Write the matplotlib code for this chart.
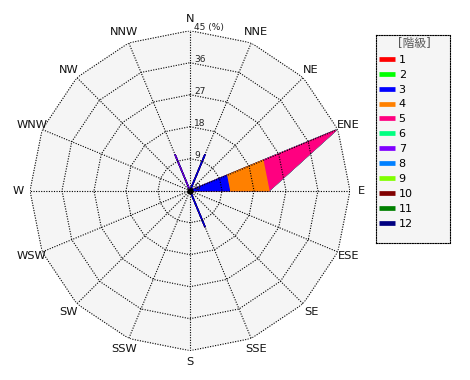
import numpy as np
import matplotlib
matplotlib.use('Agg')
import matplotlib.pyplot as plt
from matplotlib.lines import Line2D

# Fonte: DejaVu para o texto latino, Noto CJK para o título da legenda
plt.rcParams['font.family'] = ['DejaVu Sans', 'Noto Sans CJK JP']

# =============================================================================
# DADOS (frequência % por direção e por classe)
# =============================================================================
directions = ['N', 'NNE', 'NE', 'ENE', 'E', 'ESE', 'SE', 'SSE',
              'S', 'SSW', 'SW', 'WSW', 'W', 'WNW', 'NW', 'NNW']
ring_values = [9, 18, 27, 36, 45]
ring_labels = ['9', '18', '27', '36', '45 (%)']
class_labels = ['1', '2', '3', '4', '5', '6', '7', '8', '9', '10', '11', '12']
class_colors = ['#ff0000', '#00ff00', '#0000ff', '#ff8000', '#ff0080', '#00ff80',
                '#8000ff', '#0080ff', '#80ff00', '#800000', '#008000', '#000080']

#            N  NNE   NE   ENE    E  ESE SE  SSE   S SSW SW WSW W WNW NW  NNW
class_01 = [0, 0.0, 0, 0.0, 0.0, 0, 0, 0.0, 0, 0, 0, 0, 0, 0, 0, 0.0]
class_02 = [0, 0.0, 0, 0.0, 0.0, 0, 0, 0.0, 0, 0, 0, 0, 0, 0, 0, 0.0]
class_03 = [0, 11.1, 0, 11.1, 11.1, 0, 0, 11.1, 0, 0, 0, 0, 0, 0, 0, 0.0]
class_04 = [0, 0.0, 0, 11.1, 11.1, 0, 0, 0.0, 0, 0, 0, 0, 0, 0, 0, 0.0]
class_05 = [0, 0.0, 0, 22.2, 0.0, 0, 0, 0.0, 0, 0, 0, 0, 0, 0, 0, 0.0]
class_06 = [0, 0.0, 0, 0.0, 0.0, 0, 0, 0.0, 0, 0, 0, 0, 0, 0, 0, 0.0]
class_07 = [0, 0.0, 0, 0.0, 0.0, 0, 0, 0.0, 0, 0, 0, 0, 0, 0, 0, 11.1]
class_08 = [0, 0.0, 0, 0.0, 0.0, 0, 0, 0.0, 0, 0, 0, 0, 0, 0, 0, 0.0]
class_09 = [0, 0.0, 0, 0.0, 0.0, 0, 0, 0.0, 0, 0, 0, 0, 0, 0, 0, 0.0]
class_10 = [0, 0.0, 0, 0.0, 0.0, 0, 0, 0.0, 0, 0, 0, 0, 0, 0, 0, 0.0]
class_11 = [0, 0.0, 0, 0.0, 0.0, 0, 0, 0.0, 0, 0, 0, 0, 0, 0, 0, 0.0]
class_12 = [0, 0.0, 0, 0.0, 0.0, 0, 0, 0.0, 0, 0, 0, 0, 0, 0, 0, 0.0]

classes = [class_01, class_02, class_03, class_04, class_05, class_06,
           class_07, class_08, class_09, class_10, class_11, class_12]

# =============================================================================
# GRÁFICO (rosa dos ventos empilhada, estilo radar)
# =============================================================================
fig = plt.figure(figsize=(4.7, 3.8), dpi=100)
ax = fig.add_axes([30 / 470, 29.3 / 380, 320 / 470, 320 / 380], projection='polar')
ax.set_theta_zero_location('N')
ax.set_theta_direction(-1)
ax.set_ylim(0, ring_values[-1])
ax.grid(False)
ax.set_xticks([])
ax.set_yticks([])
ax.spines['polar'].set_visible(False)
ax.patch.set_visible(False)

theta = np.deg2rad(np.arange(len(directions)) * 22.5)
theta_closed = np.append(theta, theta[0])

# fundo cinza claro dentro do polígono externo
ax.fill(theta_closed, np.full(len(theta_closed), ring_values[-1]), color='#f5f5f5', zorder=0)

# camadas acumuladas, da mais externa para a mais interna
cum = np.cumsum(np.array(classes), axis=0)
for k in reversed(range(len(classes))):
    if cum[k].max() <= 0:
        continue
    r = np.append(cum[k], cum[k][0])
    ax.fill(theta_closed, r, facecolor=class_colors[k], edgecolor=class_colors[k],
            lw=1, zorder=2)

# grade pontilhada (polígonos + raios)
dot = (0, (1, 1.3))
for rv in ring_values:
    ax.plot(theta_closed, np.full(len(theta_closed), rv), color='k', ls=dot, lw=0.8, zorder=3)
for t in theta:
    ax.plot([t, t], [0, ring_values[-1]], color='k', ls=dot, lw=0.8, zorder=3)

ax.plot([0], [0], 'o', color='k', ms=3.5, zorder=4)

# rótulos das direções
for t, name in zip(theta, directions):
    ax.text(t, 48.2, name, ha='center', va='center', fontsize=8.2, color='#111111')

# rótulos dos anéis
for rv, lab in zip([0] + ring_values, ['0'] + ring_labels):
    ax.annotate(lab, xy=(0, rv), xytext=(3.2, 2.6), textcoords='offset points',
                ha='left', va='center', fontsize=6.5, color='#222222', zorder=5,
                annotation_clip=False)

# =============================================================================
# LEGENDA
# =============================================================================
lax = fig.add_axes([375.7 / 470, (380 - 243.3) / 380, 74.3 / 470, 208 / 380])
lax.set_facecolor('#f5f5f5')
lax.set_xticks([])
lax.set_yticks([])
for s in lax.spines.values():
    s.set_linestyle(dot)
    s.set_linewidth(0.8)
lax.text(0.52, 1 - 8.5 / 208, '[階級]', ha='center', va='center', fontsize=8.5,
         color='#555555', transform=lax.transAxes)

handles = [Line2D([], [], color=c, lw=3.4, solid_capstyle='butt') for c in class_colors]
lax.legend(handles, class_labels, loc='upper left', bbox_to_anchor=(3.5 / 74.3, 1 - 19.5 / 208),
           frameon=False, fontsize=8, handlelength=1.45, handletextpad=0.3,
           labelspacing=0.44, borderpad=0, borderaxespad=0)

fig.savefig('out.png', dpi=100)
